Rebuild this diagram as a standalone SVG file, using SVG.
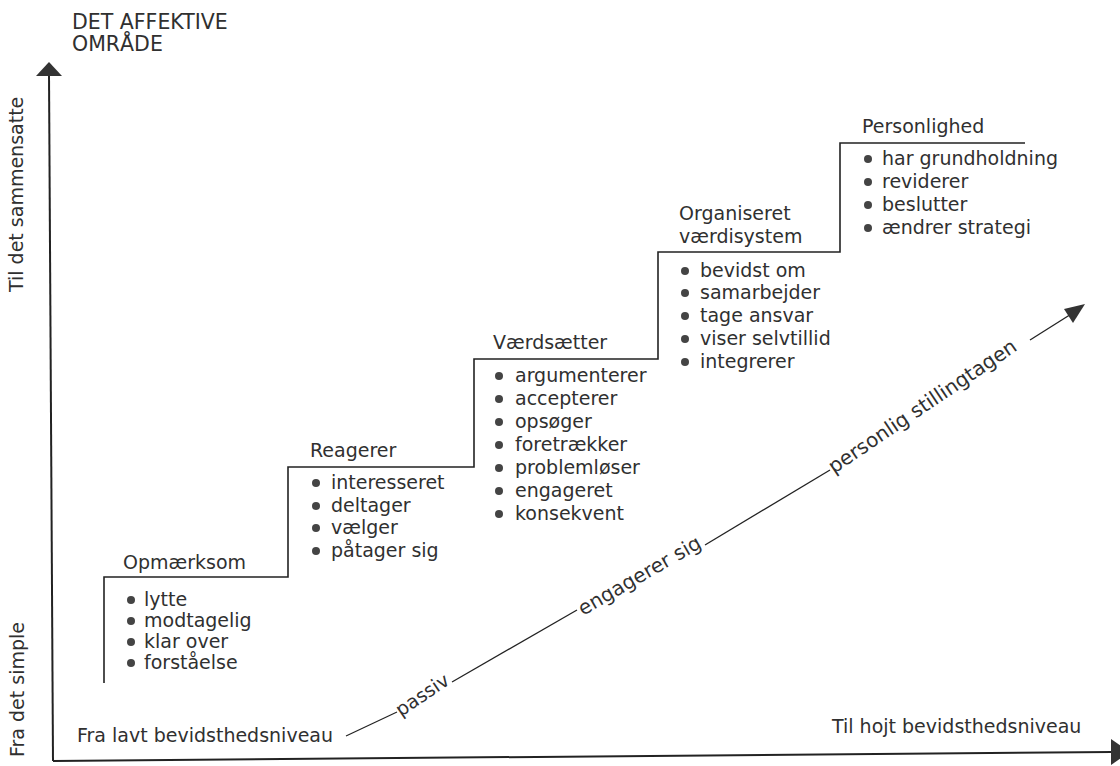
<svg xmlns="http://www.w3.org/2000/svg" width="1120" height="766" viewBox="0 0 1120 766">
<style>
text{font-family:"DejaVu Sans","Liberation Sans",sans-serif;font-size:19px;fill:#303030}
.t{font-size:20.5px}
.d{font-size:20px}
.b{fill:#444}
.ln{fill:none;stroke:#222;stroke-width:1.6}
.ax{fill:none;stroke:#222;stroke-width:2}
.ah{fill:#333}
.dg{fill:none;stroke:#222;stroke-width:1.3}
</style>
<rect width="1120" height="766" fill="#fff"/>
<g id="title">
<text class="t" x="72" y="29">DET AFFEKTIVE</text>
<text class="t" x="72" y="51">OMRÅDE</text>
</g>
<g id="axis-labels">
<text transform="translate(23,292) rotate(-90)">Til det sammensatte</text>
<text transform="translate(24,757) rotate(-90)">Fra det simple</text>
<text x="77" y="742">Fra lavt bevidsthedsniveau</text>
<text x="832" y="733">Til hojt bevidsthedsniveau</text>
</g>
<g id="connectors">
<line class="ax" x1="53" y1="761" x2="49" y2="74"/>
<polygon class="ah" points="36,76 62,76 49,62"/>
<line class="ax" x1="53" y1="761" x2="1112" y2="752"/>
<polygon class="ah" points="1111,739 1111,765 1130,752"/>
<path class="ln" d="M104,683 V577 H288 V467 H474 V359 H658 V252 H840 V143 H1025"/>
<path class="dg" d="M346,736 L397,712"/>
<path class="dg" d="M452,682 L577,610"/>
<path class="dg" d="M705,545 L830,470"/>
<path class="dg" d="M1030,340 L1076,311"/>
<polygon class="ah" points="1085,304 1064,309 1073,323"/>
<text transform="translate(401,717) rotate(-34)">passiv</text>
<text class="d" transform="translate(583,616) rotate(-30)">engagerer sig</text>
<text class="d" transform="translate(834,474) rotate(-34)">personlig stillingtagen</text>
</g>
<g id="opmaerksom">
<text x="123" y="569">Opmærksom</text>
<circle class="b" cx="131" cy="600" r="4"/><text x="144" y="606">lytte</text>
<circle class="b" cx="131" cy="621" r="4"/><text x="144" y="627">modtagelig</text>
<circle class="b" cx="131" cy="642" r="4"/><text x="144" y="648">klar over</text>
<circle class="b" cx="131" cy="663" r="4"/><text x="144" y="669">forståelse</text>
</g>
<g id="reagerer">
<text x="310" y="457">Reagerer</text>
<circle class="b" cx="316" cy="483" r="4"/><text x="331" y="489">interesseret</text>
<circle class="b" cx="316" cy="506" r="4"/><text x="331" y="512">deltager</text>
<circle class="b" cx="316" cy="528" r="4"/><text x="331" y="534">vælger</text>
<circle class="b" cx="316" cy="551" r="4"/><text x="331" y="557">påtager sig</text>
</g>
<g id="vaerdsaetter">
<text x="493" y="349">Værdsætter</text>
<circle class="b" cx="499" cy="376" r="4"/><text x="515" y="382">argumenterer</text>
<circle class="b" cx="499" cy="399" r="4"/><text x="515" y="405">accepterer</text>
<circle class="b" cx="499" cy="422" r="4"/><text x="515" y="428">opsøger</text>
<circle class="b" cx="499" cy="445" r="4"/><text x="515" y="451">foretrækker</text>
<circle class="b" cx="499" cy="468" r="4"/><text x="515" y="474">problemløser</text>
<circle class="b" cx="499" cy="491" r="4"/><text x="515" y="497">engageret</text>
<circle class="b" cx="499" cy="514" r="4"/><text x="515" y="520">konsekvent</text>
</g>
<g id="organiseret">
<text x="679" y="220">Organiseret</text>
<text x="679" y="243">værdisystem</text>
<circle class="b" cx="685" cy="271" r="4"/><text x="700" y="277">bevidst om</text>
<circle class="b" cx="685" cy="293" r="4"/><text x="700" y="299">samarbejder</text>
<circle class="b" cx="685" cy="316" r="4"/><text x="700" y="322">tage ansvar</text>
<circle class="b" cx="685" cy="339" r="4"/><text x="700" y="345">viser selvtillid</text>
<circle class="b" cx="685" cy="362" r="4"/><text x="700" y="368">integrerer</text>
</g>
<g id="personlighed">
<text x="862" y="133">Personlighed</text>
<circle class="b" cx="868" cy="159" r="4"/><text x="882" y="165">har grundholdning</text>
<circle class="b" cx="868" cy="182" r="4"/><text x="882" y="188">reviderer</text>
<circle class="b" cx="868" cy="205" r="4"/><text x="882" y="211">beslutter</text>
<circle class="b" cx="868" cy="228" r="4"/><text x="882" y="234">ændrer strategi</text>
</g>
</svg>
